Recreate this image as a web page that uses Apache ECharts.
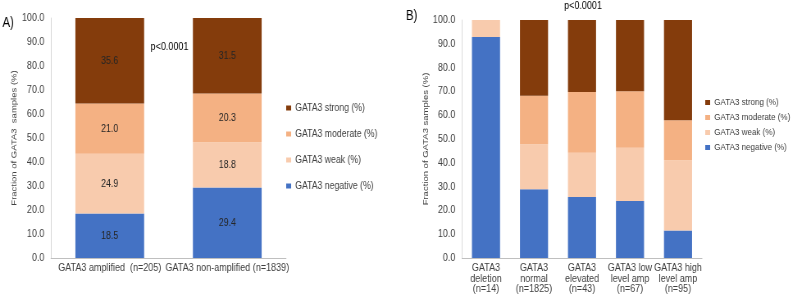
<!DOCTYPE html>
<html><head><meta charset="utf-8">
<script src="https://cdn.jsdelivr.net/npm/echarts@6/dist/echarts.min.js"></script>
<style>
html,body{margin:0;padding:0;background:#fff;overflow:hidden;width:796px;height:295px}
#c{width:971px;height:295px;transform:scaleX(0.82);transform-origin:0 0}
</style>
</head><body><div id="c"></div>
<script>
var catsA = ['GATA3 amplified  (n=205)', 'GATA3 non-amplified (n=1839)'];
var negA = [18.5, 29.4];
var weakA = [24.9, 18.8];
var modA = [21.0, 20.3];
var strongA = [35.6, 31.5];

var catsB = ['GATA3\ndeletion\n(n=14)', 'GATA3\nnormal\n(n=1825)', 'GATA3\nelevated\n(n=43)', 'GATA3 low\nlevel amp\n(n=67)', 'GATA3 high\nlevel amp\n(n=95)'];
var negB = [92.9, 28.9, 25.6, 23.9, 11.6];
var weakB = [7.1, 18.9, 18.6, 22.4, 29.5];
var modB = [0, 20.4, 25.6, 23.8, 16.8];
var strongB = [0, 31.8, 30.2, 29.9, 42.1];

var yTicks = [0, 10, 20, 30, 40, 50, 60, 70, 80, 90, 100];
var names = ['GATA3 strong (%)', 'GATA3 moderate (%)', 'GATA3 weak (%)', 'GATA3 negative (%)'];
var colors = {neg: '#4472C4', weak: '#F8CBAD', mod: '#F4B183', strong: '#843C0C'};

var F = "'Liberation Sans', Arial, sans-serif";

function yAxis(idx, name) {
  return {
    type: 'value', gridIndex: idx, min: yTicks[0], max: yTicks[yTicks.length - 1], interval: 10,
    name: name, nameLocation: 'middle', nameRotate: 90, nameGap: 35,
    nameTextStyle: {fontFamily: F, fontSize: 9.5, color: '#404040'},
    axisLine: {show: true, lineStyle: {color: '#d9d9d9', width: 1}},
    axisTick: {show: false}, splitLine: {show: false},
    axisLabel: {fontFamily: F, fontSize: 11, color: '#404040', margin: 8,
      formatter: function (v) { return v.toFixed(1); }}
  };
}
function xAxis(idx, cats) {
  return {
    type: 'category', gridIndex: idx, data: cats,
    axisLine: {show: true, lineStyle: {color: '#bfbfbf', width: 1}},
    axisTick: {show: false},
    axisLabel: {fontFamily: F, fontSize: 11, color: '#404040', margin: 5, lineHeight: 10.5, interval: 0}
  };
}
function bar(idx, name, data, color, stack, label) {
  return {
    type: 'bar', name: name, data: data, xAxisIndex: idx, yAxisIndex: idx, stack: stack,
    barWidth: '58.5%', itemStyle: {color: color}, emphasis: {disabled: true},
    label: {show: label, position: 'inside', fontFamily: F, fontSize: 10.8, color: '#262626',
      formatter: function (p) { return p.value.toFixed(1); }}
  };
}
function legend(left, top, gap, fs) {
  return {
    orient: 'vertical', left: left, top: top, padding: 0, itemGap: gap,
    itemWidth: 6, itemHeight: 5, icon: 'rect', data: names, selectedMode: false,
    textStyle: {fontFamily: F, fontSize: fs, color: '#404040', lineHeight: 12}
  };
}

var chart = echarts.init(document.getElementById('c'));
chart.setOption({
  animation: false,
  grid: [
    {left: 62.2, top: 18, width: 286.6, height: 240},
    {left: 563.4, top: 20, width: 292.7, height: 238}
  ],
  xAxis: [xAxis(0, catsA), xAxis(1, catsB)],
  yAxis: [yAxis(0, 'Fraction of GATA3  samples (%)'), yAxis(1, 'Fraction of GATA3 samples (%)')],
  legend: [legend(349, 102, 14, 10.6), legend(860, 96.5, 3, 9.8)],
  series: [
    bar(0, names[3], negA, colors.neg, 'A', true),
    bar(0, names[2], weakA, colors.weak, 'A', true),
    bar(0, names[1], modA, colors.mod, 'A', true),
    bar(0, names[0], strongA, colors.strong, 'A', true),
    bar(1, names[3], negB, colors.neg, 'B', false),
    bar(1, names[2], weakB, colors.weak, 'B', false),
    bar(1, names[1], modB, colors.mod, 'B', false),
    bar(1, names[0], strongB, colors.strong, 'B', false)
  ],
  graphic: [
    {type: 'text', x: 3, y: 16, style: {text: 'A)', fontFamily: F, fontSize: 14, fill: '#000'}},
    {type: 'text', x: 495, y: 9, style: {text: 'B)', fontFamily: F, fontSize: 14, fill: '#000'}},
    {type: 'text', x: 206.7, y: 41, style: {text: 'p<0.0001', fontFamily: F, fontSize: 11, fill: '#000', align: 'center'}},
    {type: 'text', x: 711, y: 0.5, style: {text: 'p<0.0001', fontFamily: F, fontSize: 11, fill: '#000', align: 'center'}}
  ]
});
</script></body></html>
